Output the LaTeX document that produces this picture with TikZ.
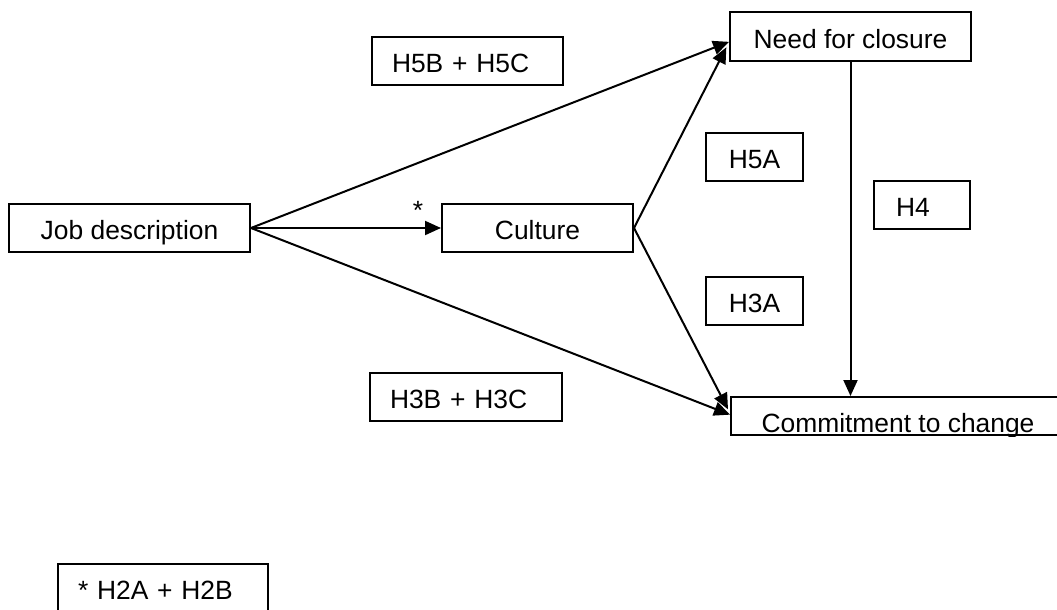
\documentclass[tikz,border=0pt]{standalone}
\usepackage{fontspec}
\setmainfont{Liberation Sans}
\usetikzlibrary{arrows.meta,calc}
\begin{document}
\begin{tikzpicture}[x=0.75pt,y=-0.75pt,
  box/.style={draw, line width=1.5pt, minimum height=36pt, inner sep=0pt, text height=17.5pt, text depth=0pt, font=\fontsize{19.8}{23}\selectfont},
  lbox/.style={box, align=left, inner xsep=15pt},
  link/.style={line width=1.5pt, -{Triangle[length=12pt,width=10.5pt]}},
  ]
\path[use as bounding box, fill=white] (0,0) rectangle (1057,610);

\node[box, minimum width=180.75pt] (job) at (129.5,228) {Job description};
\node[box, minimum width=143.25pt] (culture) at (537.5,228) {Culture};
\node[box, minimum width=180.75pt, minimum height=36.75pt] (need) at (850.5,36.5) {Need for closure};
\begin{scope}
  \clip (0,0) rectangle (1100,436);
  \node[box, minimum width=250.5pt, minimum height=0pt, inner ysep=0pt, text height=26.25pt, text depth=2.25pt] (commit) at (898,416) {Commitment to change};
\end{scope}

\node[lbox, text width=113.25pt] (h5bc) at (467.5,61) {H5B + H5C};
\node[lbox, text width=114pt] (h3bc) at (466,397) {H3B + H3C};
\node[box, minimum width=72.75pt] (h5a) at (754.5,157) {H5A};
\node[box, minimum width=72.75pt] (h3a) at (754.5,301) {H3A};
\node[lbox, inner xsep=16.5pt, text width=39pt] (h4) at (922,205) {H4};
\node[lbox, text width=127.5pt] (h2ab) at (163,588) {* H2A + H2B};

\node[font=\fontsize{19.8}{23}\selectfont, anchor=base, inner sep=0pt] (star) at (418,219) {*};

\draw[link] (job.east) -- (culture.west);
\draw[link] (job.east) -- ([yshift=-4pt]need.west);
\draw[link] (culture.east) -- ([xshift=-2pt,yshift=11pt]need.south west);
\draw[link] (job.east) -- ([yshift=-14pt]commit.north west);
\draw[link] (culture.east) -- ([xshift=-1.5pt,yshift=-10pt]commit.north west);
\draw[link] (need.south) -- (need.south |- commit.north);
\end{tikzpicture}
\end{document}
